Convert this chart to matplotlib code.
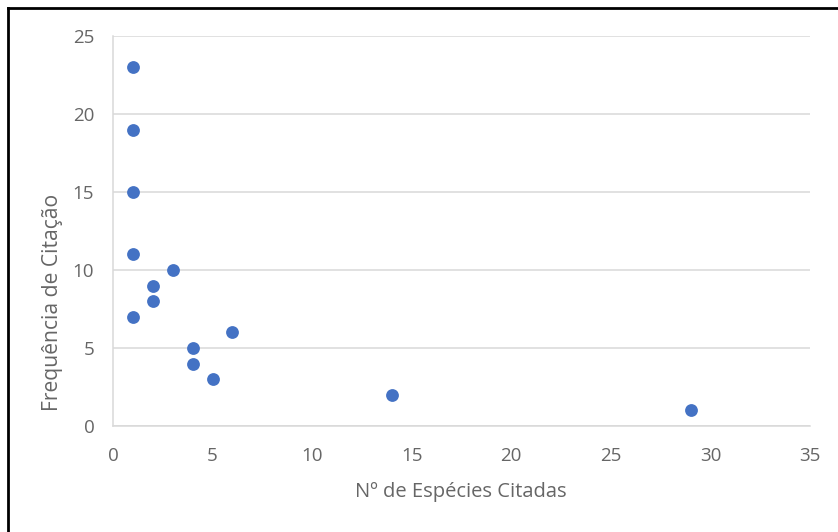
import matplotlib.pyplot as plt
from matplotlib.lines import Line2D

# Species cited vs citation frequency
especies = [1, 1, 1, 1, 1, 2, 2, 3, 4, 4, 5, 6, 14, 29]
frequencia = [23, 19, 15, 11, 7, 9, 8, 10, 5, 4, 3, 6, 2, 1]

x_ticks = [0, 5, 10, 15, 20, 25, 30, 35]
y_ticks = [0, 5, 10, 15, 20, 25]

plt.rcParams['font.family'] = ['Open Sans', 'DejaVu Sans']
GRAY = '#666666'

fig = plt.figure(figsize=(8.38, 5.32), dpi=100)
ax = fig.add_axes([113 / 838, 1 - 426 / 532, 697 / 838, 390 / 532])

ax.scatter(especies, frequencia, s=85, color='#4472C4', zorder=3, linewidths=0)

ax.set_xlim(0, 35)
ax.set_ylim(0, 25)
ax.set_xticks(x_ticks)
ax.set_yticks(y_ticks)
ax.grid(axis='y', color='#D9D9D9', linewidth=1.1)
ax.set_axisbelow(True)

for side in ['top', 'right']:
    ax.spines[side].set_visible(False)
for side in ['left', 'bottom']:
    ax.spines[side].set_color('#D9D9D9')
    ax.spines[side].set_linewidth(1.1)

ax.tick_params(length=0, labelsize=13.5, labelcolor=GRAY)
ax.tick_params(axis='x', pad=15)
ax.tick_params(axis='y', pad=13.5)

# axis titles placed where the original puts them
fig.text(461 / 838, 1 - 492 / 532, 'Nº de Espécies Citadas', fontsize=14.5,
         color=GRAY, ha='center', va='center')
fig.text(53 / 838, 1 - 302 / 532, 'Frequência de Citação', fontsize=15.2,
         color=GRAY, ha='center', va='center', rotation=90)

# black frame on the top and left edges
fig.add_artist(Line2D([7.5 / 838, 7.5 / 838], [0, 1 - 7.5 / 532], color='black', linewidth=2))
fig.add_artist(Line2D([7.5 / 838, 1], [1 - 7.5 / 532, 1 - 7.5 / 532], color='black', linewidth=2))

fig.savefig('out.png', dpi=100, facecolor='white')
